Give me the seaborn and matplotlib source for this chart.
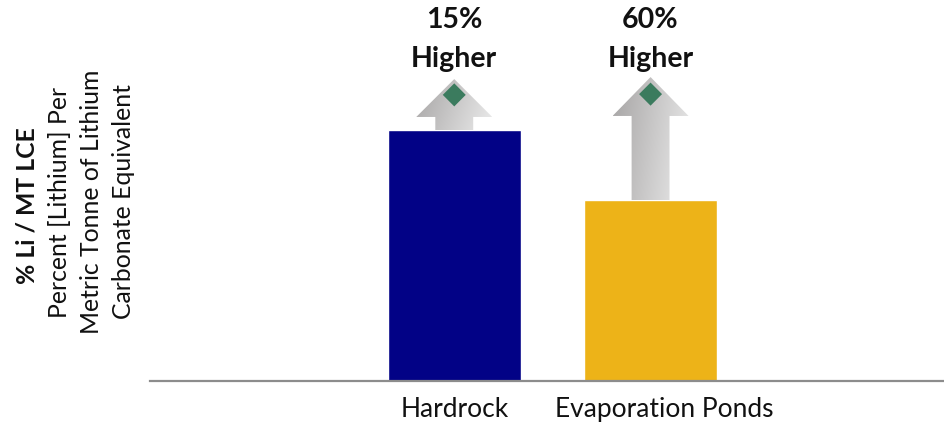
import matplotlib
matplotlib.use("Agg")
import matplotlib.pyplot as plt
import matplotlib.transforms as mtransforms
from matplotlib.patches import Polygon
from matplotlib.colors import LinearSegmentedColormap
import numpy as np
import pandas as pd
import seaborn as sns

# ---- data ----
categories = ["Hardrock", "Evaporation Ponds"]
values = [100, 72]                     # relative % Li per MT LCE
bar_colors = ["#020286", "#EDB318"]
callouts = ["15%\nHigher", "60%\nHigher"]
arrow_tip = [120.3, 121.1]
arrow_head_base = [105.2, 105.6]
marker_level = [114.0, 114.3]
ylabel_bold = "% Li / MT LCE"
ylabel_lines = ["Percent [Lithium] Per", "Metric Tonne of Lithium", "Carbonate Equivalent"]

sns.set_theme(style="white")
plt.rcParams["font.family"] = ["Lato", "DejaVu Sans"]

fig = plt.figure(figsize=(9.45, 4.31), dpi=100)
ax = fig.add_axes([150 / 945, 49 / 431, 795 / 945, 382 / 431])

df = pd.DataFrame({"cat": categories, "val": values})
sns.barplot(data=df, x="cat", y="val", hue="cat", palette=bar_colors,
            width=0.68, legend=False, ax=ax, saturation=1, zorder=2)

ax.set_xlim(-1.55, 2.5)
ax.set_ylim(0, 152.2)
ax.set_yticks([])
ax.set_xlabel("")
ax.set_ylabel("")
for s in ["top", "left", "right"]:
    ax.spines[s].set_visible(False)
ax.spines["bottom"].set_color("#8c8c8c")
ax.spines["bottom"].set_linewidth(1.6)
ax.tick_params(axis="x", length=0, pad=11, labelsize=19, labelcolor="#111111")

# shift the second tick label slightly right as in reference
lbls = ax.get_xticklabels()
off = mtransforms.ScaledTranslation(14 / 100, 0, fig.dpi_scale_trans)
lbls[1].set_transform(lbls[1].get_transform() + off)

cmap = LinearSegmentedColormap.from_list("g", ["#a6a4a4", "#ebebeb"])
shaft_w = 0.193
head_w = 0.387
for i, (v, tip, hb, ml, txt) in enumerate(zip(values, arrow_tip, arrow_head_base, marker_level, callouts)):
    xc = i
    pts = [(xc - shaft_w / 2, v), (xc - shaft_w / 2, hb), (xc - head_w / 2, hb), (xc, tip),
           (xc + head_w / 2, hb), (xc + shaft_w / 2, hb), (xc + shaft_w / 2, v)]
    poly = Polygon(pts, closed=True, transform=ax.transData, facecolor="none", edgecolor="none")
    ax.add_patch(poly)
    gx = np.linspace(0, 1, 200)
    gy = np.linspace(0, 1, 200)
    GX, GY = np.meshgrid(gx, gy)
    grad = 0.8 * GX + 0.2 * (1 - GY)
    im = ax.imshow(grad, extent=[xc - head_w / 2, xc + head_w / 2, v, tip], origin="lower",
                   aspect="auto", cmap=cmap, zorder=3, interpolation="bilinear")
    im.set_clip_path(poly)
    dx, dy = 0.0585, 4.6
    dpoly = Polygon([(xc, ml + dy), (xc + dx, ml), (xc, ml - dy), (xc - dx, ml)], closed=True,
                    facecolor="#3b7b5e", edgecolor="none", zorder=4)
    ax.add_patch(dpoly)
    ax.text(xc, 136.4, txt, ha="center", va="center", fontsize=20.5, fontweight="bold",
            color="#111111", linespacing=1.62, clip_on=False)

ax.set_xlim(-1.55, 2.5)
ax.set_ylim(0, 152.2)

# y-axis label block
fig.text(27 / 945, 1 - 206 / 431, ylabel_bold, rotation=90, ha="center", va="center",
         fontsize=17.8, fontweight="bold", color="#111111")
for k, line in enumerate(ylabel_lines):
    fig.text((60 + 32 * k) / 945, 1 - 202 / 431, line, rotation=90, ha="center", va="center",
             fontsize=17.8, color="#111111")

fig.savefig("out.png", dpi=100)
